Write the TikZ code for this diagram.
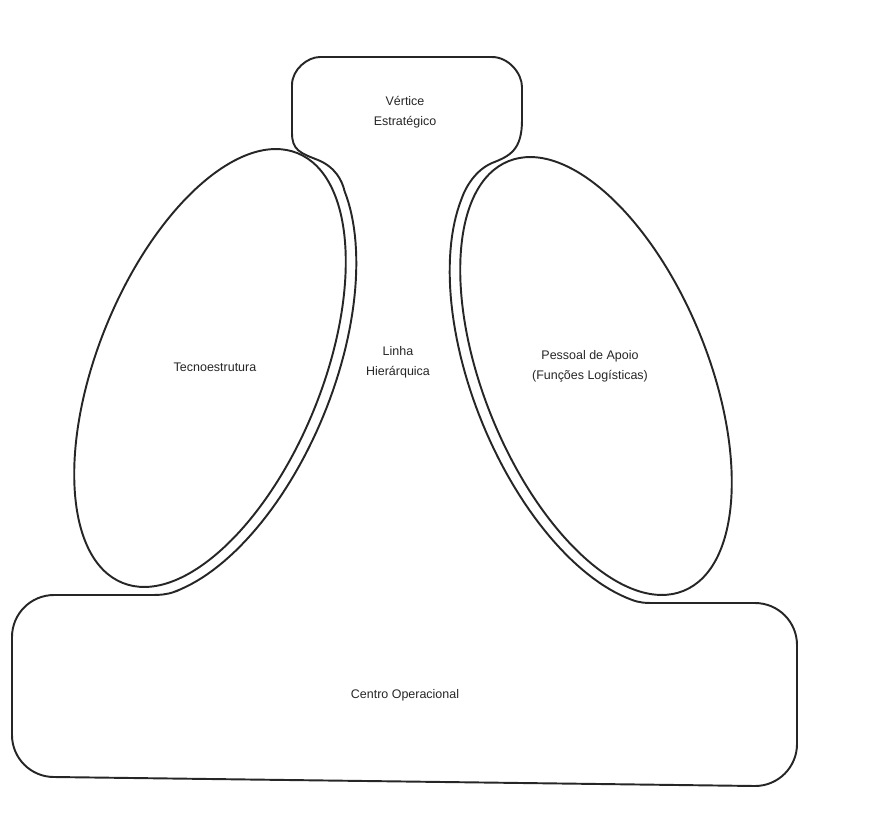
\documentclass[tikz,border=0pt]{standalone}
\usepackage{fontspec}
\setmainfont{Liberation Sans}
\usepackage{tikz}

\begin{document}
\begin{tikzpicture}[x=0.02cm,y=-0.02cm,font=\fontsize{7.1}{11.6}\selectfont,
  part/.style={draw=black!85,line width=1.1pt},
  lbl/.style={align=center,text=black!85}]
  \useasboundingbox (0,0) rectangle (879,825);
  % outline: apex, middle line and operating core in one path
  \draw[part] (292,133) -- (292,85) .. controls (292,69.5) and (307.5,57) .. (320,57)
    -- (492,57) .. controls (508.6,57) and (522,73.4) .. (522,87) -- (522,120)
    .. controls (522,150) and (510,156) .. (492,163)
    .. controls (476,170) and (466,186) .. (461.5,199)
    -- plot[domain=28:155,samples=60,variable=\t] ({596-91.85*cos(\t)-113.9*sin(\t)},{376-225*cos(\t)+46.5*sin(\t)})
    .. controls (640,603) and (645,603) .. (656,603)
    -- (755,603) .. controls (778.2,603) and (797,621.8) .. (797,645)
    -- (797,744) .. controls (797,767.2) and (778.2,786) .. (755,786)
    -- (54,777) .. controls (30.8,777) and (12,758.2) .. (12,735)
    -- (12,637) .. controls (12,613.8) and (30.8,595) .. (54,595)
    -- (150,595) .. controls (160,595) and (166.6,594.7) .. (175,591.6)
    -- plot[domain=155:28,samples=60,variable=\t] ({210+91.85*cos(\t)+113.9*sin(\t)},{368-225*cos(\t)+46.5*sin(\t)})
    .. controls (342,180) and (335,167) .. (318,160)
    .. controls (300,153) and (292,150) .. (292,133) -- cycle;
  % the two side parts
  \draw[part,rotate around={67.8:(210,368)}] (210,368) ellipse (232 and 112);
  \draw[part,rotate around={112.2:(596,376)}] (596,376) ellipse (232 and 112);
  \node[lbl] (vertice) at (405,112) {Vértice\\Estratégico};
  \node[lbl] (linha) at (398,362) {Linha\\Hierárquica};
  \node[lbl] (tecno) at (215,367) {Tecnoestrutura};
  \node[lbl] (apoio) at (590,366) {Pessoal de Apoio\\(Funções Logísticas)};
  \node[lbl] (centro) at (405,695) {Centro Operacional};
\end{tikzpicture}
\end{document}
